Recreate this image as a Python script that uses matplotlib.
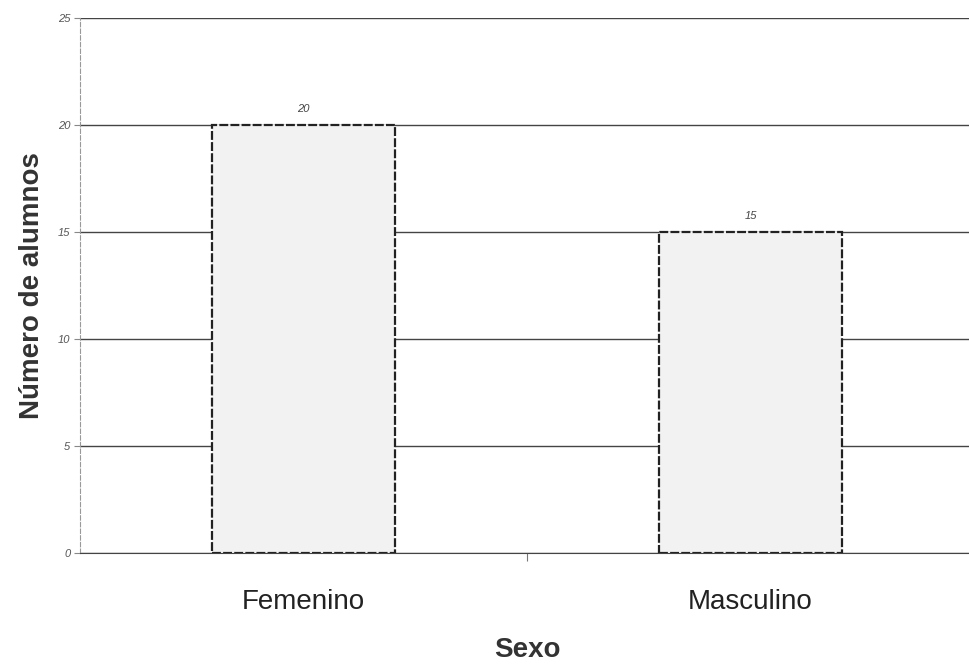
import matplotlib.pyplot as plt
import numpy as np

plt.rcParams["font.family"] = ["Liberation Sans", "DejaVu Sans"]

categorias = ["Femenino", "Masculino"]
alumnos = [20, 15]
yticks = [0, 5, 10, 15, 20, 25]

fig = plt.figure(figsize=(9.69, 6.65), dpi=100)
ax = fig.add_axes([80 / 969, 112 / 665, 894 / 969, 535 / 665])

x = np.arange(len(categorias))
ax.set_axisbelow(True)
ax.yaxis.grid(True, color="#444444", linewidth=1.0)
bars = ax.bar(x, alumnos, width=0.41, color="#f2f2f2", edgecolor="#222222",
              linewidth=1.6, linestyle=(0, (4, 1)))
for b, v in zip(bars, alumnos):
    ax.text(b.get_x() + b.get_width() / 2, v + 0.5, str(v), ha="center", va="bottom",
            fontsize=8, color="#444444", style="italic")

ax.set_xlim(-0.5, 1.5)
ax.set_ylim(0, 25)
ax.set_yticks(yticks)
ax.set_yticklabels([str(t) for t in yticks], fontsize=8, color="#555555", style="italic")
ax.tick_params(axis="y", length=4, width=0.8, color="#888888", pad=3)

ax.set_xticks(x)
ax.set_xticklabels(categorias, fontsize=20, color="#222222")
ax.tick_params(axis="x", which="major", length=0, pad=26)
ax.set_xticks([0.5], minor=True)
ax.tick_params(axis="x", which="minor", length=6, width=0.8, color="#777777")

ax.spines["top"].set_visible(False)
ax.spines["right"].set_visible(False)
ax.spines["left"].set_color("#999999")
ax.spines["left"].set_linestyle((0, (4, 2)))
ax.spines["bottom"].set_color("#444444")

ax.set_xlabel("Sexo", fontsize=20, fontweight="bold", color="#333333", labelpad=16)
ax.set_ylabel("Número de alumnos", fontsize=20, fontweight="bold", color="#333333", labelpad=9)

fig.savefig("out.png", dpi=100)
